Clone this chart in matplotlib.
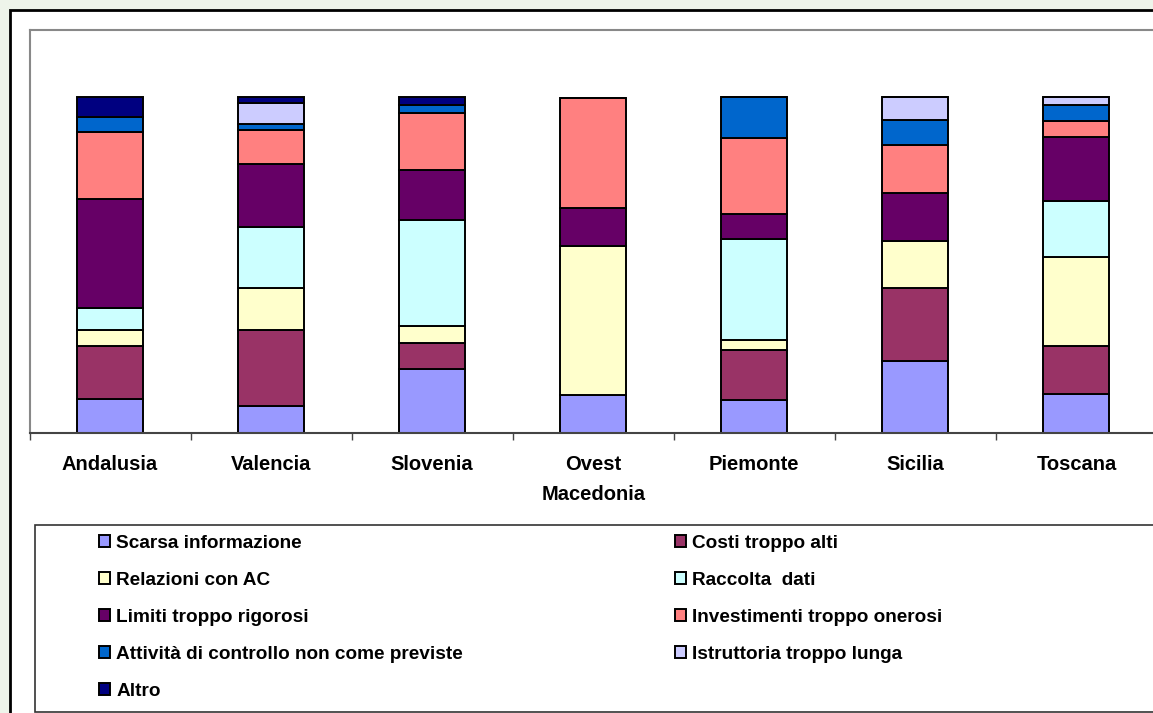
import numpy as np
import matplotlib
matplotlib.use('Agg')
import matplotlib.pyplot as plt
from matplotlib.patches import Rectangle, Patch

plt.rcParams['font.family'] = ['Liberation Sans', 'DejaVu Sans']
plt.rcParams['font.weight'] = 'bold'

# regioni (categorie)
regioni = ['Andalusia', 'Valencia', 'Slovenia', 'Ovest\nMacedonia', 'Piemonte', 'Sicilia', 'Toscana']

# quote percentuali per ogni motivo
scarsa_informazione = [10.1, 8.0, 19.2, 11.2, 9.9, 21.4, 11.7]
costi_troppo_alti = [15.9, 22.7, 7.5, 0.0, 14.9, 21.7, 14.3]
relazioni_con_ac = [4.6, 12.4, 5.2, 44.5, 3.0, 14.1, 26.5]
raccolta_dati = [6.7, 18.3, 31.6, 0.0, 29.9, 0.0, 16.5]
limiti_rigorosi = [32.5, 18.7, 14.9, 11.4, 7.4, 14.2, 19.1]
investimenti_onerosi = [19.9, 10.2, 16.9, 32.8, 22.6, 14.3, 4.7]
attivita_controllo = [4.5, 1.7, 2.4, 0.0, 12.4, 7.5, 5.0]
istruttoria_lunga = [0.0, 6.3, 0.0, 0.0, 0.0, 6.8, 2.2]
altro = [5.8, 1.7, 2.3, 0.0, 0.0, 0.0, 0.0]

etichette = ['Scarsa informazione', 'Costi troppo alti', 'Relazioni con AC', 'Raccolta  dati',
             'Limiti troppo rigorosi', 'Investimenti troppo onerosi',
             'Attività di controllo non come previste', 'Istruttoria troppo lunga', 'Altro']
serie = [scarsa_informazione, costi_troppo_alti, relazioni_con_ac, raccolta_dati,
         limiti_rigorosi, investimenti_onerosi, attivita_controllo, istruttoria_lunga, altro]
colori = ['#9999FF', '#993366', '#FFFFCC', '#CCFFFF', '#660066',
          '#FF8080', '#0066CC', '#CCCCFF', '#000080']

W, H = 1153, 713
fig = plt.figure(figsize=(W / 100, H / 100), dpi=100)
fig.patch.set_facecolor('#eef4ea')

# area del grafico (bianca con bordo nero)
fig.patches.append(Rectangle((10 / W, -0.1), 1.2, 1 - 10 / H + 0.1, transform=fig.transFigure,
                             facecolor='white', edgecolor='black', linewidth=2, zorder=-2))

# riquadro della legenda
fig.patches.append(Rectangle((35 / W, 1 - 712 / H), 1.2, (712 - 525) / H, transform=fig.transFigure,
                             facecolor='white', edgecolor='#333333', linewidth=1.2, zorder=-1))

# area del tracciato
ax = fig.add_axes([29.5 / W, 1 - 433 / H, (1157 - 29.5) / W, (433 - 30) / H])
ax.set_zorder(1)
x = np.arange(len(regioni))
base = np.zeros(len(regioni))
for vals, col in zip(serie, colori):
    vals = np.array(vals)
    ax.bar(x, vals, 0.41, bottom=base, color=col, edgecolor='black', linewidth=1.4)
    base += vals

ax.set_xlim(-0.5, len(regioni) - 0.5)
ax.set_ylim(0, 120)
ax.set_yticks([])
ax.set_xticks(x)
ax.set_xticklabels(regioni, fontsize=14.5, fontweight='bold', linespacing=1.7)
ax.set_xticks(np.arange(-0.5, len(regioni), 1), minor=True)
ax.tick_params(axis='x', which='major', length=0, pad=16)
ax.tick_params(axis='x', which='minor', length=5, width=1, color='#444444', direction='out')
for s in ['left', 'top']:
    ax.spines[s].set_color('#888888')
    ax.spines[s].set_linewidth(1.5)
ax.spines['right'].set_visible(False)
ax.spines['bottom'].set_color('#444444')
ax.spines['bottom'].set_linewidth(1.5)

handles = [Patch(facecolor=c, edgecolor='black', linewidth=1.4) for c in colori]
opts = dict(frameon=False, fontsize=13.7, handlelength=0.6, handleheight=0.6,
            handletextpad=0.3, labelspacing=1.05, borderpad=0, borderaxespad=0,
            loc='upper left', bbox_transform=fig.transFigure)
col1 = [0, 2, 4, 6, 8]
col2 = [1, 3, 5, 7]
leg1 = fig.legend([handles[i] for i in col1], [etichette[i] for i in col1],
                  bbox_to_anchor=(99 / W, 1 - 535 / H), **opts)
leg2 = fig.legend([handles[i] for i in col2], [etichette[i] for i in col2],
                  bbox_to_anchor=(675 / W, 1 - 535 / H), **opts)
for lg in (leg1, leg2):
    lg.set_zorder(3)
    for t in lg.get_texts():
        t.set_fontweight('bold')

fig.savefig('out.png', dpi=100, facecolor=fig.get_facecolor())
